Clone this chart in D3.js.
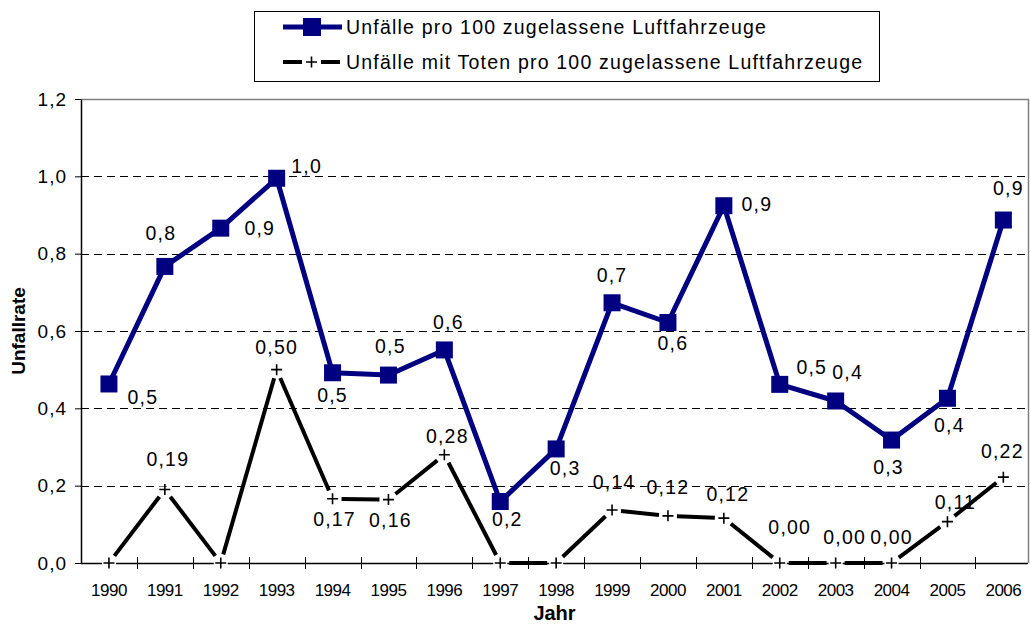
<!DOCTYPE html>
<html>
<head>
<meta charset="utf-8">
<script src="https://cdn.jsdelivr.net/npm/d3@7"></script>
<style>
body { margin: 0; background: #fff; }
text { font-family: "Liberation Sans", Arial, sans-serif; fill: #000; }
</style>
</head>
<body>
<div id="chart-area"></div>
<script>
// data
var years = ["1990", "1991", "1992", "1993", "1994", "1995", "1996", "1997", "1998",
             "1999", "2000", "2001", "2002", "2003", "2004", "2005", "2006"];
var unfaelle = [0.463, 0.767, 0.866, 0.995, 0.492, 0.486, 0.551, 0.159, 0.295,
                0.673, 0.622, 0.924, 0.462, 0.419, 0.318, 0.426, 0.887];
var unfaelleTote = [0, 0.19, 0, 0.50, 0.166, 0.164, 0.28, 0, 0,
                    0.137, 0.122, 0.116, 0, 0, 0, 0.107, 0.222];
var yTicks = [0, 0.2, 0.4, 0.6, 0.8, 1.0, 1.2];
var seriesNames = ["Unfälle pro 100 zugelassene Luftfahrzeuge",
                   "Unfälle mit Toten pro 100 zugelassene Luftfahrzeuge"];
var xTitle = "Jahr";
var yTitle = "Unfallrate";

// where each data label sits relative to its marker (null = no label)
var blueLabelPos = [[34,13],[-4,-33],[39,0],[30,-12],[0,22],[2,-29],[4,-28],[7,17],[9,19],
                    [0,-28],[5,20],[33,-2],[32,-17],[12,-29],[-3,27],[2,27],[5,-32]];
var blackLabelPos = [null,[3,-31],null,[0,-23],[2,20],[2,20],[3,-19],null,null,
                     [2,-28],[0,-29],[4,-24],[10,-36],[9,-26],[0,-26],[8,-20],[-1,-26]];

var width = 1030, height = 626;
var plot = { left: 81, right: 1028, top: 99, bottom: 563 };
var navy = "#000080";

var de = d3.formatLocale({ decimal: ",", thousands: ".", grouping: [3], currency: ["", " €"] });
var fmt1 = de.format(".1f"), fmt2 = de.format(".2f");

var xScale = d3.scaleBand()
               .domain(years)
               .range([plot.left, plot.left + 17 * 55.9]);
var yScale = d3.scaleLinear()
               .domain([0, 1.2])
               .range([plot.bottom, plot.top]);

function cx(i) { return xScale(years[i]) + xScale.bandwidth() / 2; }

var svg = d3.select("#chart-area")
        .append("svg")
        .attr("width", width)
        .attr("height", height);

// gridlines
svg.append("g").selectAll("line")
    .data(yTicks.filter(function(t) { return t > 0 && t < 1.2; }))
    .enter().append("line")
    .attr("x1", plot.left).attr("x2", plot.right)
    .attr("y1", function(d) { return Math.round(yScale(d)) + 0.5; })
    .attr("y2", function(d) { return Math.round(yScale(d)) + 0.5; })
    .attr("stroke", "#000")
    .attr("stroke-dasharray", "8,5");

// plot border top / right
svg.append("path")
    .attr("d", "M" + plot.left + "," + (plot.top + 0.5) + "H" + (plot.right + 0.5) + "V" + plot.bottom)
    .attr("fill", "none")
    .attr("stroke", "#808080")
    .attr("stroke-width", 1.5);

// y axis
var yAxis = svg.append("g")
    .attr("transform", "translate(" + plot.left + ",0)")
    .call(d3.axisLeft(yScale).tickValues(yTicks).tickFormat(fmt1)
          .tickSize(6).tickSizeOuter(0).tickPadding(8));
yAxis.select(".domain").attr("stroke", "#000").attr("stroke-width", 1.5);
yAxis.selectAll(".tick line").attr("stroke", "#000");
yAxis.selectAll(".tick text")
    .attr("font-size", "19px")
    .attr("letter-spacing", "1px")
    .attr("font-family", null);

// x axis
svg.append("line")
    .attr("x1", plot.left).attr("x2", plot.right)
    .attr("y1", plot.bottom + 0.5).attr("y2", plot.bottom + 0.5)
    .attr("stroke", "#000").attr("stroke-width", 1.5);
svg.append("g").selectAll("line")
    .data(years.slice(1))
    .enter().append("line")
    .attr("x1", function(d) { return Math.round(xScale(d)) + 0.5; })
    .attr("x2", function(d) { return Math.round(xScale(d)) + 0.5; })
    .attr("y1", plot.bottom - 6).attr("y2", plot.bottom + 6)
    .attr("stroke", "#000");
svg.append("g").selectAll("text")
    .data(years)
    .enter().append("text")
    .attr("x", function(d, i) { return cx(i); })
    .attr("y", 596)
    .attr("text-anchor", "middle")
    .attr("font-size", "17px")
    .attr("letter-spacing", "-0.5px")
    .text(function(d) { return d; });

// axis titles
svg.append("text")
    .attr("x", (plot.left + plot.right) / 2)
    .attr("y", 620)
    .attr("text-anchor", "middle")
    .attr("font-size", "20px")
    .attr("font-weight", "bold")
    .text(xTitle);
svg.append("text")
    .attr("transform", "translate(25," + ((plot.top + plot.bottom) / 2) + ") rotate(-90)")
    .attr("text-anchor", "middle")
    .attr("font-size", "19px")
    .attr("font-weight", "bold")
    .text(yTitle);

// blue series
var line = d3.line()
    .x(function(d, i) { return cx(i); })
    .y(function(d) { return yScale(d); });
svg.append("path")
    .datum(unfaelle)
    .attr("d", line)
    .attr("fill", "none")
    .attr("stroke", navy)
    .attr("stroke-width", 5)
    .attr("stroke-linejoin", "round");
svg.append("g").selectAll("rect")
    .data(unfaelle)
    .enter().append("rect")
    .attr("x", function(d, i) { return cx(i) - 8.5; })
    .attr("y", function(d) { return yScale(d) - 8.5; })
    .attr("width", 17).attr("height", 17)
    .attr("fill", navy);

// black series: segments stop short of the + markers
var gap = 9;
var segs = d3.range(unfaelleTote.length - 1).map(function(i) {
    var x0 = cx(i), y0 = yScale(unfaelleTote[i]);
    var x1 = cx(i + 1), y1 = yScale(unfaelleTote[i + 1]);
    var len = Math.hypot(x1 - x0, y1 - y0), ux = (x1 - x0) / len, uy = (y1 - y0) / len;
    return [x0 + ux * gap, y0 + uy * gap, x1 - ux * gap, y1 - uy * gap];
});
svg.append("g").selectAll("rect")
    .data(unfaelleTote)
    .enter().append("rect")
    .attr("x", function(d, i) { return cx(i) - 7; })
    .attr("y", function(d) { return yScale(d) - 3; })
    .attr("width", 14).attr("height", 6)
    .attr("fill", "#fff");
svg.append("g").selectAll("line")
    .data(segs)
    .enter().append("line")
    .attr("x1", function(d) { return d[0]; }).attr("y1", function(d) { return d[1]; })
    .attr("x2", function(d) { return d[2]; }).attr("y2", function(d) { return d[3]; })
    .attr("stroke", "#000")
    .attr("stroke-width", 4);
svg.append("g").selectAll("path")
    .data(unfaelleTote)
    .enter().append("path")
    .attr("d", function(d, i) {
        var px = cx(i), py = yScale(d);
        return "M" + (px - 5.5) + "," + py + "H" + (px + 5.5) + "M" + px + "," + (py - 5.5) + "V" + (py + 5.5);
    })
    .attr("stroke", "#000")
    .attr("stroke-width", 1.6);

// data labels
svg.append("g").selectAll("text")
    .data(unfaelle)
    .enter().append("text")
    .attr("x", function(d, i) { return cx(i) + blueLabelPos[i][0]; })
    .attr("y", function(d, i) { return yScale(d) + blueLabelPos[i][1]; })
    .attr("dy", "0.36em")
    .attr("text-anchor", "middle")
    .attr("font-size", "19.5px")
    .attr("letter-spacing", "1.2px")
    .text(function(d) { return fmt1(d); });
svg.append("g").selectAll("text")
    .data(unfaelleTote.map(function(v, i) { return { v: v, i: i }; })
          .filter(function(d) { return blackLabelPos[d.i]; }))
    .enter().append("text")
    .attr("x", function(d) { return cx(d.i) + blackLabelPos[d.i][0]; })
    .attr("y", function(d) { return yScale(d.v) + blackLabelPos[d.i][1]; })
    .attr("dy", "0.36em")
    .attr("text-anchor", "middle")
    .attr("font-size", "19.5px")
    .attr("letter-spacing", "1.2px")
    .text(function(d) { return fmt2(d.v); });

// legend
var legend = svg.append("g");
legend.append("rect")
    .attr("x", 254.5).attr("y", 11.5)
    .attr("width", 625).attr("height", 70)
    .attr("fill", "#fff")
    .attr("stroke", "#000");
legend.append("line")
    .attr("x1", 283).attr("x2", 342).attr("y1", 27).attr("y2", 27)
    .attr("stroke", navy).attr("stroke-width", 5);
legend.append("rect")
    .attr("x", 303).attr("y", 18).attr("width", 18).attr("height", 18)
    .attr("fill", navy);
legend.append("line")
    .attr("x1", 283).attr("x2", 302).attr("y1", 62).attr("y2", 62)
    .attr("stroke", "#000").attr("stroke-width", 4);
legend.append("line")
    .attr("x1", 321).attr("x2", 340).attr("y1", 62).attr("y2", 62)
    .attr("stroke", "#000").attr("stroke-width", 4);
legend.append("path")
    .attr("d", "M306,62H317M311.5,56.5V67.5")
    .attr("stroke", "#000").attr("stroke-width", 1.6);
legend.selectAll("text.name")
    .data(seriesNames)
    .enter().append("text")
    .attr("class", "name")
    .attr("x", 346)
    .attr("y", function(d, i) { return 34 + i * 35; })
    .attr("font-size", "19.5px")
    .attr("letter-spacing", "1.2px")
    .text(function(d) { return d; });
</script>
</body>
</html>
